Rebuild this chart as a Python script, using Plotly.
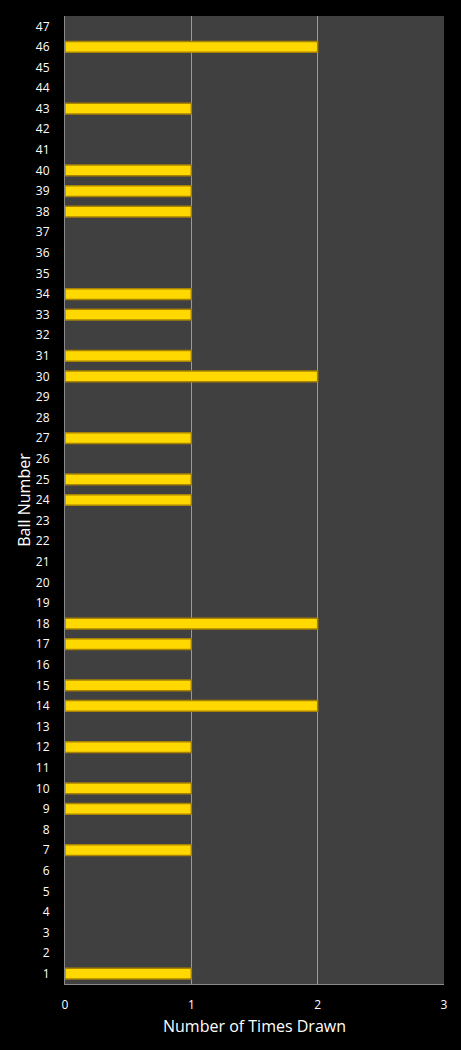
import plotly.graph_objects as go

balls = [1, 7, 9, 10, 12, 14, 15, 17, 18, 24, 25, 27, 30, 31, 33, 34, 38, 39, 40, 43, 46]
times_drawn = [1, 1, 1, 1, 1, 2, 1, 1, 2, 1, 1, 1, 2, 1, 1, 1, 1, 1, 1, 1, 2]
all_balls = list(range(1, 48))

fig = go.Figure()
fig.add_trace(go.Bar(
    x=times_drawn, y=balls, orientation="h",
    width=0.52,
    marker=dict(color="#FFD800", line=dict(color="#A88200", width=1.5)),
))

font = "Open Sans, DejaVu Sans, sans-serif"
fig.update_layout(
    width=461, height=1050,
    paper_bgcolor="#000000", plot_bgcolor="#404040",
    margin=dict(l=65, r=17, t=16, b=66),
    showlegend=False,
    font=dict(family=font, color="#FFFFFF", size=12),
    xaxis=dict(
        range=[0, 3], tickvals=[0, 1, 2, 3], showgrid=True,
        gridcolor="#9A9A9A", gridwidth=1,
        showline=True, linecolor="#8A8A8A", zeroline=False,
        title=dict(text="Number of Times Drawn", font=dict(size=16, color="#FFFFFF"), standoff=8),
        tickfont=dict(size=12, color="#FFFFFF"),
        ticklabelstandoff=10,
    ),
    yaxis=dict(
        range=[0.5, 47.5], tickvals=all_balls, ticktext=[str(b) for b in all_balls],
        showgrid=False, showline=True, linecolor="#8A8A8A", zeroline=False,
        title=dict(text="Ball Number", font=dict(size=16, color="#FFFFFF"), standoff=1),
        tickfont=dict(size=12, color="#FFFFFF"),
        ticklabelstandoff=12,
    ),
)

fig.write_html(
    "out.html",
    config={"displayModeBar": False},
    post_script="document.body.style.margin='0';document.body.style.padding='0';document.body.style.background='#000';",
)
